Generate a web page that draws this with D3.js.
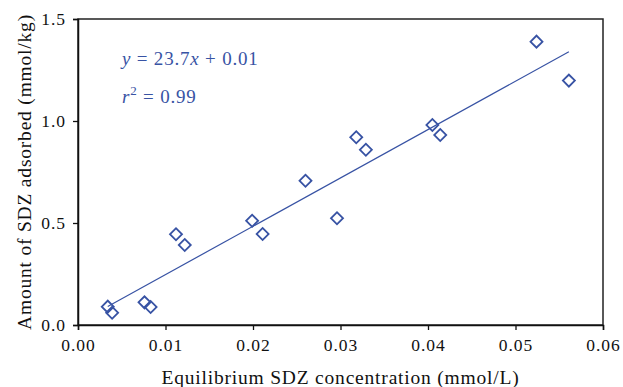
<!DOCTYPE html>
<html>
<head>
<meta charset="utf-8">
<script src="https://cdn.jsdelivr.net/npm/d3@7"></script>
<style>
  body { margin: 0; background: #fff; }
  svg text { font-family: "Liberation Serif", "DejaVu Serif", serif; }
</style>
</head>
<body>
<div id="chart"></div>
<script>
// equilibrium concentration (mmol/L) vs amount adsorbed (mmol/kg)
const concentration = [0.0034, 0.0039, 0.0076, 0.0083, 0.0112, 0.0122, 0.0199, 0.0211,
                       0.0260, 0.0296, 0.0318, 0.0329, 0.0405, 0.0414, 0.0524, 0.0561];
const adsorbed = [0.090, 0.060, 0.111, 0.088, 0.445, 0.392, 0.511, 0.446,
                  0.707, 0.523, 0.920, 0.859, 0.980, 0.931, 1.389, 1.198];
const xTicks = [0, 0.01, 0.02, 0.03, 0.04, 0.05, 0.06];
const yTicks = [0, 0.5, 1.0, 1.5];
const slope = 23.7, intercept = 0.01, r2 = 0.99;

const width = 623, height = 387;
const margin = {top: 19, right: 20, bottom: 62, left: 78};
const blue = "#3853a4";

const svg = d3.select("#chart")
    .append("svg")
    .attr("width", width)
    .attr("height", height);

const x = d3.scaleLinear()
    .domain([0, 0.06])
    .range([margin.left, width - margin.right]);

const y = d3.scaleLinear()
    .domain([0, 1.5])
    .range([height - margin.bottom, margin.top]);

// frame
svg.append("rect")
    .attr("x", x(0))
    .attr("y", y(1.5))
    .attr("width", x(0.06) - x(0))
    .attr("height", y(0) - y(1.5))
    .attr("fill", "none")
    .attr("stroke", "#222")
    .attr("stroke-width", 1.5);

// axes
const xAxis = svg.append("g")
    .attr("transform", `translate(0,${y(0)})`)
    .call(d3.axisBottom(x).tickValues(xTicks).tickFormat(d3.format(".2f")).tickSize(5).tickPadding(9));

const yAxis = svg.append("g")
    .attr("transform", `translate(${x(0)},0)`)
    .call(d3.axisLeft(y).tickValues(yTicks).tickFormat(d3.format(".1f")).tickSize(5).tickPadding(7));

[xAxis, yAxis].forEach(g => {
    g.select(".domain").attr("stroke", "#111").attr("stroke-width", 1.5);
    g.selectAll(".tick line").attr("stroke", "#111").attr("stroke-width", 1.3);
    g.selectAll(".tick text")
        .attr("fill", "#111")
        .style("font-family", '"Liberation Serif", serif')
        .style("font-size", "17.5px")
        .style("letter-spacing", "1px");
});

// axis titles
svg.append("text")
    .attr("x", (x(0) + x(0.06)) / 2)
    .attr("y", 384)
    .attr("text-anchor", "middle")
    .attr("fill", "#111")
    .style("font-size", "19.5px")
    .style("letter-spacing", "0.8px")
    .text("Equilibrium SDZ concentration (mmol/L)");

svg.append("text")
    .attr("transform", `translate(31,${(y(0) + y(1.5)) / 2}) rotate(-90)`)
    .attr("text-anchor", "middle")
    .attr("fill", "#111")
    .style("font-size", "19.5px")
    .style("letter-spacing", "0.8px")
    .text("Amount of SDZ adsorbed (mmol/kg)");

// regression line
const xMin = d3.min(concentration), xMax = d3.max(concentration);
svg.append("line")
    .attr("x1", x(xMin))
    .attr("y1", y(slope * xMin + intercept))
    .attr("x2", x(xMax))
    .attr("y2", y(slope * xMax + intercept))
    .attr("stroke", blue)
    .attr("stroke-width", 1.2);

// diamonds
const diamond = d3.symbol().type(d3.symbolSquare).size(72);
svg.append("g")
    .selectAll("path")
    .data(concentration.map((c, i) => [c, adsorbed[i]]))
    .join("path")
    .attr("d", diamond)
    .attr("transform", d => `translate(${x(d[0])},${y(d[1])}) rotate(45)`)
    .attr("fill", "none")
    .attr("stroke", blue)
    .attr("stroke-width", 1.8);

// equation annotation
const eq = svg.append("text")
    .attr("x", 122)
    .attr("y", 65)
    .attr("fill", blue)
    .style("font-size", "19px")
    .style("letter-spacing", "0.8px");
eq.append("tspan").style("font-style", "italic").text("y");
eq.append("tspan").text(` = ${slope}`);
eq.append("tspan").style("font-style", "italic").text("x");
eq.append("tspan").text(` + ${intercept.toFixed(2)}`);

const rt = svg.append("text")
    .attr("x", 122)
    .attr("y", 103)
    .attr("fill", blue)
    .style("font-size", "19px")
    .style("letter-spacing", "0.8px");
rt.append("tspan").style("font-style", "italic").text("r");
rt.append("tspan").attr("dy", -8).style("font-size", "13px").text("2");
rt.append("tspan").attr("dy", 8).text(` = ${r2}`);
</script>
</body>
</html>
